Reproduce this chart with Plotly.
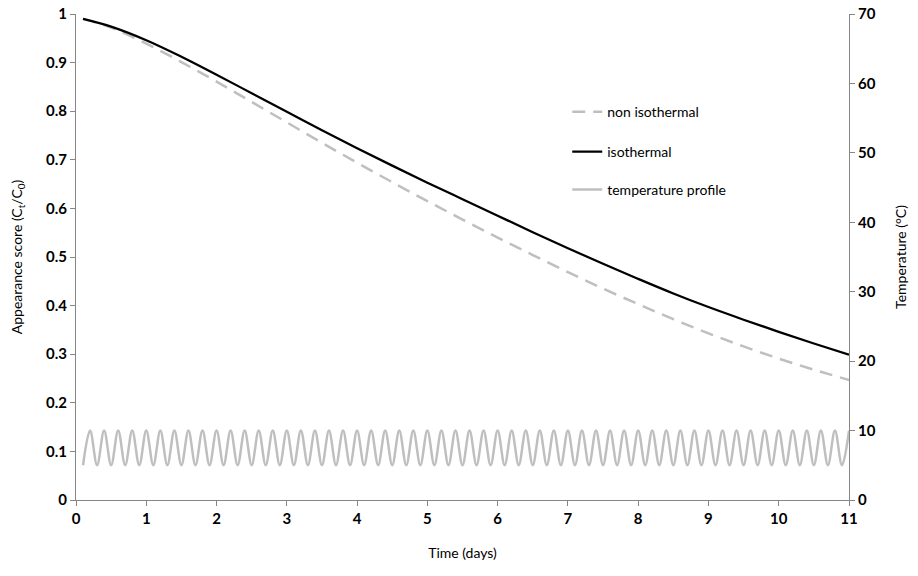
import plotly.graph_objects as go

# Appearance score (Ct/C0) over storage time
days = [0.1, 0.5, 1.0, 1.5, 2.0, 2.5, 3.0, 3.5, 4.0, 4.5, 5.0, 5.5,
        6.0, 6.5, 7.0, 7.5, 8.0, 8.5, 9.0, 9.5, 10.0, 10.5, 11.0]
isothermal = [0.990, 0.974, 0.946, 0.912, 0.875, 0.837, 0.799, 0.761,
              0.724, 0.688, 0.653, 0.619, 0.585, 0.551, 0.518, 0.486,
              0.455, 0.425, 0.397, 0.371, 0.346, 0.322, 0.299]
non_isothermal = [0.990, 0.972, 0.939, 0.901, 0.861, 0.819, 0.777, 0.735,
                  0.694, 0.654, 0.615, 0.577, 0.540, 0.504, 0.469, 0.435,
                  0.403, 0.372, 0.343, 0.316, 0.291, 0.268, 0.247]

# Temperature profile: turning points (minima / maxima) of the cycling storage temperature
temp_time = [round(0.1 * k, 1) for k in range(1, 111)]
temp_c = [5, 10, 5, 10, 5, 10, 5, 10, 5, 10, 5, 10, 5, 10, 5, 10, 5, 10, 5, 10,
          5, 10, 5, 10, 5, 10, 5, 10, 5, 10, 5, 10, 5, 10, 5, 10, 5, 10, 5, 10,
          5, 10, 5, 10, 5, 10, 5, 10, 5, 10, 5, 10, 5, 10, 5, 10, 5, 10, 5, 10,
          5, 10, 5, 10, 5, 10, 5, 10, 5, 10, 5, 10, 5, 10, 5, 10, 5, 10, 5, 10,
          5, 10, 5, 10, 5, 10, 5, 10, 5, 10, 5, 10, 5, 10, 5, 10, 5, 10, 5, 10,
          5, 10, 5, 10, 5, 10, 5, 10, 5, 10]

x_ticks = list(range(0, 12))
left_ticks = [0, 0.1, 0.2, 0.3, 0.4, 0.5, 0.6, 0.7, 0.8, 0.9, 1]
left_labels = ["0", "0.1", "0.2", "0.3", "0.4", "0.5", "0.6", "0.7", "0.8", "0.9", "1"]
right_ticks = [0, 10, 20, 30, 40, 50, 60, 70]

GREY = "#BFBFBF"
AXIS = "#868686"
FONT = "Lato"

fig = go.Figure()
fig.add_trace(go.Scatter(
    x=days, y=non_isothermal, mode="lines", name="non isothermal",
    line=dict(color=GREY, width=2.5, dash="13px,8px", shape="spline"),
    legend="legend"))
fig.add_trace(go.Scatter(
    x=days, y=isothermal, mode="lines", name="isothermal",
    line=dict(color="#000000", width=2.25, shape="spline"),
    legend="legend2"))
fig.add_trace(go.Scatter(
    x=temp_time, y=temp_c, mode="lines", name="temperature profile",
    line=dict(color=GREY, width=2.5, shape="spline", smoothing=1),
    yaxis="y2", legend="legend3"))

tick_font = dict(family=FONT, size=15, color="#000000", weight="bold")
title_font = dict(family=FONT, size=14, color="#000000")
axis_common = dict(showline=True, linecolor=AXIS, linewidth=1, ticks="outside",
                   tickcolor=AXIS, ticklen=5, showgrid=False, zeroline=False,
                   tickfont=tick_font, automargin=False)

legend_common = dict(font=dict(family=FONT, size=14, color="#000000"),
                     bgcolor="rgba(0,0,0,0)", itemwidth=30, xanchor="left",
                     yanchor="middle", x=0.6355)

fig.update_layout(
    width=918, height=576,
    margin=dict(l=76, r=69, t=14, b=76),
    paper_bgcolor="white", plot_bgcolor="white",
    showlegend=True,
    xaxis=dict(range=[0, 11], tickvals=x_ticks,
               title=dict(text="Time (days)", font=title_font, standoff=22),
               **axis_common),
    yaxis=dict(range=[0, 1], tickvals=left_ticks, ticktext=left_labels,
               title=dict(text="Appearance score (C<sub>t</sub>/C<sub>0</sub>)",
                          font=title_font, standoff=20),
               **axis_common),
    yaxis2=dict(range=[0, 70], tickvals=right_ticks, overlaying="y", side="right",
                title=dict(text="Temperature (°C)", font=title_font, standoff=21),
                **axis_common),
    legend=dict(y=0.798, **legend_common),
    legend2=dict(y=0.716, **legend_common),
    legend3=dict(y=0.638, **legend_common),
)

fig.write_html("out.html")
